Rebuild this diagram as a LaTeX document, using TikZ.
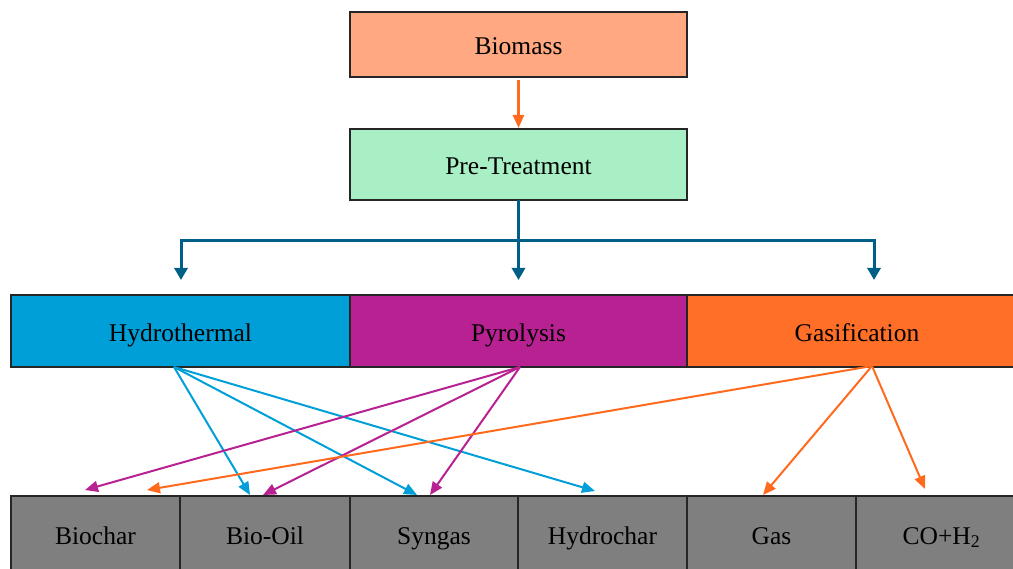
\documentclass[tikz,border=0pt]{standalone}
\usepackage{fontspec}
\setmainfont{Liberation Serif}
\usetikzlibrary{arrows.meta}
\definecolor{biom}{HTML}{FFA882}
\definecolor{pret}{HTML}{A9EFC5}
\definecolor{hydc}{HTML}{009FD7}
\definecolor{pyrc}{HTML}{B72191}
\definecolor{gasc}{HTML}{FF6F28}
\definecolor{grayc}{HTML}{7F7F7F}
\definecolor{conn}{HTML}{005F86}
\definecolor{orc}{HTML}{FF6A1C}
\begin{document}
\begin{tikzpicture}[x=1pt,y=-1pt,
  box/.style={draw=black!85,line width=1.2pt,outer sep=0pt,inner sep=0pt,
    font=\fontsize{25.5}{30}\selectfont,text=black,text height=21pt,text depth=0pt},
  top/.style={box,minimum width=337pt},
  mid/.style={box,minimum height=72pt},
  bot/.style={box,fill=grayc,minimum height=75pt},
  arr/.style={line width=2pt,-{Triangle[length=13pt,width=11pt]}},
  tree/.style={line width=3pt,draw=conn},
  treearr/.style={tree,-{Triangle[length=12pt,width=13pt]}}]
\useasboundingbox (0,0) rectangle (1013,569);
\clip (0,0) rectangle (1013,569);
% top boxes
\node[top,fill=biom,minimum height=65pt] (bio) at (518.5,44.5) {Biomass};
\node[top,fill=pret,minimum height=71pt] (pre) at (518.5,164.5) {Pre-Treatment};
% middle row
\node[mid,fill=hydc,minimum width=339pt] (hyd) at (180.5,331) {Hydrothermal};
\node[mid,fill=pyrc,minimum width=337pt] (pyr) at (518.5,331) {Pyrolysis};
\node[mid,fill=gasc,minimum width=340pt] (gas) at (857,331) {Gasification};
% bottom row
\node[bot,minimum width=169pt] (bc) at (95.5,533.5) {Biochar};
\node[bot,minimum width=170pt] (bo) at (265,533.5) {Bio-Oil};
\node[bot,minimum width=168pt] (sg) at (434,533.5) {Syngas};
\node[bot,minimum width=169pt] (hc) at (602.5,533.5) {Hydrochar};
\node[bot,minimum width=169pt] (gp) at (771.5,533.5) {Gas};
\node[bot,minimum width=171pt] (co) at (941.5,533.5) {CO+H\textsubscript{2}};
% biomass -> pre-treatment
\draw[arr,draw=orc,fill=orc,line width=2.5pt] ([yshift=-3pt]bio.south) -- ([yshift=1pt]pre.north);
% tree
\coordinate (j) at (pre.south |- 0,241);
\draw[tree] (pre.south) -- (j);
\draw[treearr] (j) -| ([xshift=0.5pt,yshift=15pt]hyd.north);
\draw[treearr] (j) -| ([xshift=17pt,yshift=15pt]gas.north);
\draw[treearr] (j) -- ([yshift=15pt]pyr.north);
% source points
\coordinate (hs) at ([xshift=-6.5pt]hyd.south);
\coordinate (ps) at ([xshift=1.5pt]pyr.south);
\coordinate (gs) at ([xshift=15pt,yshift=1pt]gas.south);
% hydrothermal arrows
\draw[arr,draw=hydc,fill=hydc] (hs) -- ([xshift=-15pt,yshift=1pt]bo.north);
\draw[arr,draw=hydc,fill=hydc] (hs) -- ([xshift=-17pt,yshift=1pt]sg.north);
\draw[arr,draw=hydc,fill=hydc] (hs) -- ([xshift=-7.5pt,yshift=5pt]hc.north);
% pyrolysis arrows
\draw[arr,draw=pyrc,fill=pyrc] (ps) -- ([xshift=-10.5pt,yshift=6pt]bc.north);
\draw[arr,draw=pyrc,fill=pyrc] (ps) -- ([xshift=-2pt,yshift=1pt]bo.north);
\draw[arr,draw=pyrc,fill=pyrc] (ps) -- ([xshift=-4pt,yshift=1pt]sg.north);
% gasification arrows
\draw[arr,draw=orc,fill=orc] (gs) -- ([xshift=51.5pt,yshift=6pt]bc.north);
\draw[arr,draw=orc,fill=orc] (gs) -- ([xshift=-8.5pt,yshift=1pt]gp.north);
\draw[arr,draw=orc,fill=orc] (gs) -- ([xshift=-16.5pt,yshift=7pt]co.north);
\end{tikzpicture}
\end{document}
